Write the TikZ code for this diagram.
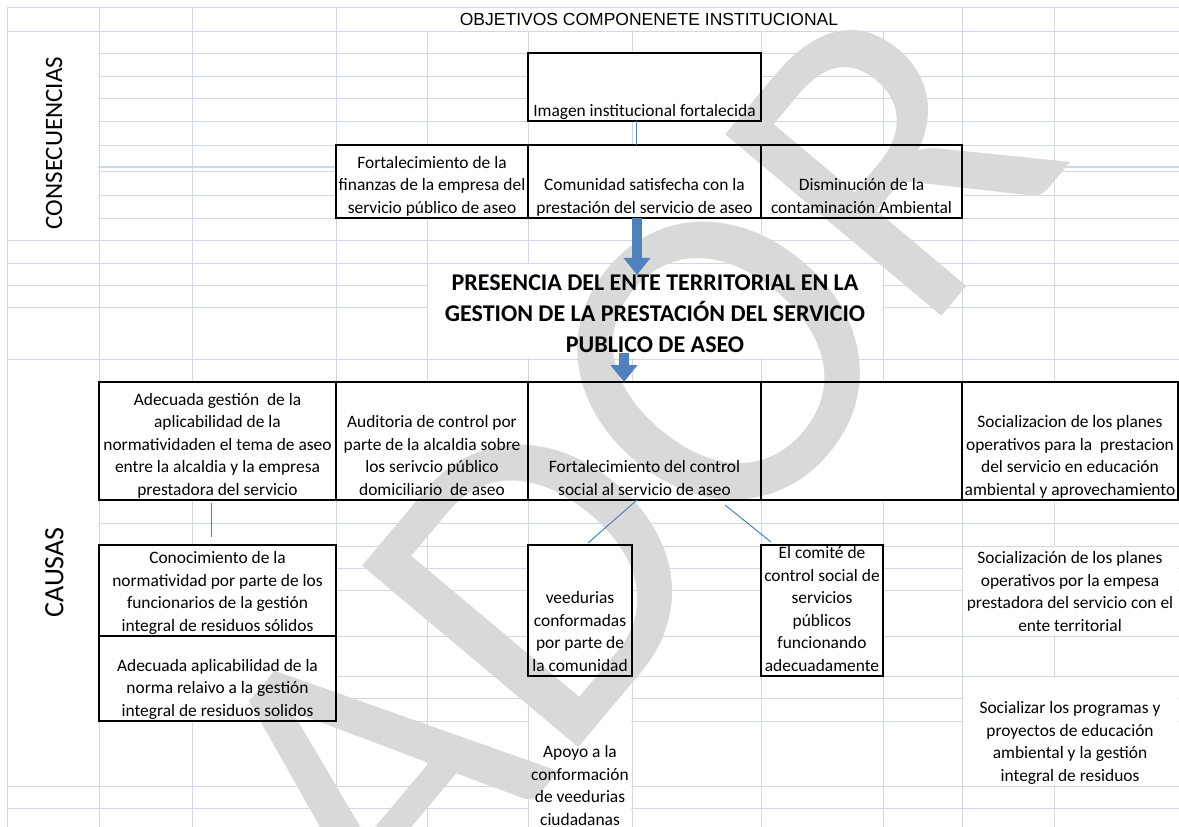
\documentclass[tikz,border=0pt]{standalone}
\usepackage{fontspec}
\setmainfont{Carlito}
\newfontfamily\arialfont{Liberation Sans}
\usetikzlibrary{arrows.meta}

\definecolor{rejillacol}{RGB}{208,215,229}
\definecolor{azul}{RGB}{79,129,189}
\definecolor{marcacol}{RGB}{217,217,217}

\pgfdeclarelayer{fondo}
\pgfdeclarelayer{marca}
\pgfsetlayers{fondo,marca,main}

\begin{document}
\begin{tikzpicture}[x=1pt,y=-1pt,
    rejilla/.style={draw=rejillacol,line width=1pt},
    caja/.style={draw,line width=1.8pt,inner sep=0pt,outer sep=0pt},
    texto/.style={font=\fontsize{17.4}{22.5}\selectfont,align=center,inner sep=0pt,
      anchor=south,yshift=-2pt,execute at end node=\strut},
    conector/.style={draw=azul,line width=1pt},
    flecha/.style={draw=azul,line width=10pt,-{Triangle[length=17pt,width=26pt]}}]

    \useasboundingbox (0,0) rectangle (1179,827);

    % side and top labels
    \node[font=\arialfont\fontsize{17.5}{20}\selectfont] (objetivos) at (649,19) {OBJETIVOS COMPONENETE INSTITUCIONAL};
    \node[font=\fontsize{25}{30}\selectfont,rotate=90] (consecuencias) at (54,143) {CONSECUENCIAS};
    \node[font=\fontsize{28}{32}\selectfont,rotate=90] (causas) at (54.5,572.5) {CAUSAS};

    % consequence boxes
    \node[caja,minimum width=233pt,minimum height=68pt] (imagen) at (644.5,87) {};
    \node[caja,minimum width=192pt,minimum height=73pt] (finanzas) at (432,181.5) {};
    \node[caja,minimum width=233pt,minimum height=73pt] (comunidad) at (644.5,181.5) {};
    \node[caja,minimum width=201pt,minimum height=73pt] (disminucion) at (861.5,181.5) {};

    \node[texto] (t-imagen) at (imagen.south) {Imagen institucional fortalecida};
    \node[texto] (t-finanzas) at (finanzas.south) {Fortalecimiento de la\\finanzas de la empresa del\\servicio público de aseo};
    \node[texto] (t-comunidad) at (comunidad.south) {Comunidad satisfecha con la\\prestación del servicio de aseo};
    \node[texto] (t-disminucion) at (disminucion.south) {Disminución de la\\contaminación Ambiental};

    % central problem
    \node[font=\bfseries\fontsize{24}{31}\selectfont,align=center,inner sep=0pt] (titulo) at (655,314)
      {PRESENCIA DEL ENTE TERRITORIAL EN LA\\GESTION DE LA PRESTACIÓN DEL SERVICIO\\PUBLICO DE ASEO};

    % cause boxes
    \node[caja,minimum width=237pt,minimum height=118pt] (gestion) at (217.5,441) {};
    \node[caja,minimum width=192pt,minimum height=118pt] (auditoria) at (432,441) {};
    \node[caja,minimum width=233pt,minimum height=118pt] (control) at (644.5,441) {};
    \node[caja,minimum width=201pt,minimum height=118pt] (vacio) at (861.5,441) {};
    \node[caja,minimum width=216pt,minimum height=118pt] (socplanes) at (1070,441) {};

    \node[texto] (t-gestion) at (gestion.south) {Adecuada gestión\ \ de la\\aplicabilidad de la\\normatividaden el tema de aseo\\entre la alcaldia y la empresa\\prestadora del servicio};
    \node[texto] (t-auditoria) at (auditoria.south) {Auditoria de control por\\parte de la alcaldia sobre\\los serivcio público\\domiciliario\ \ de aseo};
    \node[texto] (t-control) at (control.south) {Fortalecimiento del control\\social al servicio de aseo};
    \node[texto] (t-socplanes) at (socplanes.south) {Socializacion de los planes\\operativos para la\ \ prestacion\\del servicio en educación\\ambiental y aprovechamiento};

    % lower cause boxes
    \node[caja,minimum width=237pt,minimum height=91pt] (conocimiento) at (217.5,590.5) {};
    \node[caja,minimum width=237pt,minimum height=85pt] (aplicabilidad) at (217.5,678.5) {};
    \node[caja,minimum width=104pt,minimum height=131pt] (veedurias) at (580,610.5) {};
    \node[caja,minimum width=122pt,minimum height=131pt] (comite) at (822,610.5) {};

    \node[texto] (t-conocimiento) at (conocimiento.south) {Conocimiento de la\\normatividad por parte de los\\funcionarios de la gestión\\integral de residuos sólidos};
    \node[texto] (t-aplicabilidad) at (aplicabilidad.south) {Adecuada aplicabilidad de la\\norma relaivo a la gestión\\integral de residuos solidos};
    \node[texto] (t-veedurias) at (veedurias.south) {veedurias\\conformadas\\por parte de\\la comunidad};
    \node[texto] (t-comite) at (comite.south) {El comité de\\control social de\\servicios\\públicos\\funcionando\\adecuadamente};

    % loose texts
    \node[texto] (apoyo) at (580,830) {Apoyo a la\\conformación\\de veedurias\\ciudadanas};
    \node[texto] (socempresa) at (1070,636) {Socialización de los planes\\operativos por la empesa\\prestadora del servicio con el\\ente territorial};
    \node[texto] (socprogramas) at (1070,786) {Socializar los programas y\\proyectos de educación\\ambiental y la gestión\\integral de residuos};

    % connectors
    \draw[conector] ([xshift=-8.5pt]imagen.south) -- ([xshift=-8.5pt]comunidad.north);
    \draw[conector] ([xshift=-6.5pt,yshift=-3pt]gestion.south) -- ([xshift=-6.5pt,yshift=8pt]conocimiento.north);
    \draw[conector] ([xshift=-7.5pt]control.south) -- ([xshift=8pt,yshift=2pt]veedurias.north);
    \draw[conector] ([xshift=80.5pt,yshift=-5pt]control.south) -- ([xshift=-51pt,yshift=3pt]comite.north);
    \draw[flecha] ([xshift=-7.5pt]comunidad.south) -- ([xshift=-18pt]titulo.north);
    \draw[flecha] ([xshift=-31pt]titulo.south) -- ([xshift=-20.5pt]control.north);

    % spreadsheet grid
    \begin{pgfonlayer}{fondo}
      \foreach \y in {7,31,53,76,98,121,145,195,218,240,263,285,307,359,382,500,523,546,568,590,636,676,698,721,786,808}
        \draw[rejilla] (7,\y) -- (1179,\y);
      \draw[rejilla,line width=1.3pt] (7,167) -- (1179,167);
      \draw[rejilla,line width=1.3pt] (7,171.5) -- (1179,171.5);
      \foreach \x in {7,99,192,336,962,1054}
        \draw[rejilla] (\x,7) -- (\x,827);
      \foreach \x in {427,528,632,761,883}
        \draw[rejilla] (\x,31) -- (\x,827);
      % merged cells
      \foreach \a/\b/\c/\d in {7/31/99/240,7/359/99/786,336/7/962/31,427/263/883/359,962/546/1179/636,962/676/1179/786,528/676/632/827}
        \fill[white] (\a+0.6,\b+0.6) rectangle (\c-0.6,\d-0.6);
      \foreach \n in {imagen,finanzas,comunidad,disminucion,gestion,auditoria,control,vacio,socplanes,conocimiento,aplicabilidad,veedurias,comite}
        \fill[white] (\n.north west) rectangle (\n.south east);
    \end{pgfonlayer}

    % watermark
    \begin{pgfonlayer}{marca}
      \node[text=marcacol,font=\fontsize{440}{440}\selectfont,rotate=50] (borrador) at (303,857) {BORRADOR};
    \end{pgfonlayer}

\end{tikzpicture}
\end{document}
